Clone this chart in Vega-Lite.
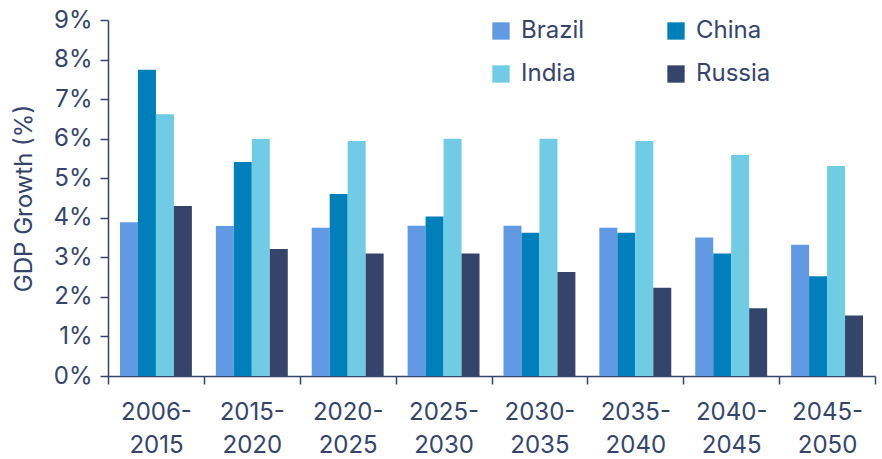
{
  "$schema": "https://vega.github.io/schema/vega-lite/v6.json",
  "autosize": {"type": "none"},
  "width": 767,
  "height": 356,
  "padding": {"left": 108, "top": 20, "right": 7, "bottom": 83},
  "background": "white",
  "config": {
    "view": {"stroke": null},
    "font": "Inter",
    "axis": {"labelFont": "Inter", "titleFont": "Inter", "labelColor": "#35446c", "titleColor": "#35446c", "domainColor": "#35446c", "tickColor": "#35446c", "grid": false}
  },
  "data": {
    "values": [
      {"period": "2006-2015", "country": "Brazil", "growth": 3.89},
      {"period": "2006-2015", "country": "China", "growth": 7.74},
      {"period": "2006-2015", "country": "India", "growth": 6.62},
      {"period": "2006-2015", "country": "Russia", "growth": 4.3},
      {"period": "2015-2020", "country": "Brazil", "growth": 3.79},
      {"period": "2015-2020", "country": "China", "growth": 5.41},
      {"period": "2015-2020", "country": "India", "growth": 5.99},
      {"period": "2015-2020", "country": "Russia", "growth": 3.21},
      {"period": "2020-2025", "country": "Brazil", "growth": 3.75},
      {"period": "2020-2025", "country": "China", "growth": 4.6},
      {"period": "2020-2025", "country": "India", "growth": 5.94},
      {"period": "2020-2025", "country": "Russia", "growth": 3.1},
      {"period": "2025-2030", "country": "Brazil", "growth": 3.8},
      {"period": "2025-2030", "country": "China", "growth": 4.03},
      {"period": "2025-2030", "country": "India", "growth": 6.0},
      {"period": "2025-2030", "country": "Russia", "growth": 3.1},
      {"period": "2030-2035", "country": "Brazil", "growth": 3.8},
      {"period": "2030-2035", "country": "China", "growth": 3.62},
      {"period": "2030-2035", "country": "India", "growth": 6.0},
      {"period": "2030-2035", "country": "Russia", "growth": 2.63},
      {"period": "2035-2040", "country": "Brazil", "growth": 3.75},
      {"period": "2035-2040", "country": "China", "growth": 3.62},
      {"period": "2035-2040", "country": "India", "growth": 5.94},
      {"period": "2035-2040", "country": "Russia", "growth": 2.23},
      {"period": "2040-2045", "country": "Brazil", "growth": 3.5},
      {"period": "2040-2045", "country": "China", "growth": 3.1},
      {"period": "2040-2045", "country": "India", "growth": 5.59},
      {"period": "2040-2045", "country": "Russia", "growth": 1.71},
      {"period": "2045-2050", "country": "Brazil", "growth": 3.32},
      {"period": "2045-2050", "country": "China", "growth": 2.52},
      {"period": "2045-2050", "country": "India", "growth": 5.31},
      {"period": "2045-2050", "country": "Russia", "growth": 1.53}
    ]
  },
  "mark": {"type": "bar"},
  "encoding": {
    "x": {
      "field": "period", "type": "nominal", "sort": null,
      "scale": {"paddingInner": 0, "paddingOuter": 0},
      "axis": {
        "title": null, "labelAngle": 0, "labelFontSize": 24, "labelPadding": 16,
        "labelLineHeight": 33,
        "labelExpr": "[slice(datum.label, 0, 5), slice(datum.label, 5)]",
        "tickBand": "extent", "tickSize": 8, "tickWidth": 1.5, "domainWidth": 1.5
      }
    },
    "xOffset": {"field": "country", "type": "nominal", "scale": {"paddingInner": 0, "paddingOuter": 0.6667}},
    "y": {
      "field": "growth", "type": "quantitative",
      "scale": {"domain": [0, 9], "nice": false},
      "axis": {
        "title": "GDP Growth (%)", "titleFontSize": 24, "titleFontWeight": "normal", "titlePadding": 16,
        "values": [0, 1, 2, 3, 4, 5, 6, 7, 8, 9],
        "labelExpr": "datum.value + '%'", "labelFontSize": 24, "labelPadding": 8,
        "tickSize": 8, "tickWidth": 1.5, "domainWidth": 1.5
      }
    },
    "color": {
      "field": "country", "type": "nominal",
      "scale": {"domain": ["Brazil", "China", "India", "Russia"], "range": ["#619ae2", "#0080ba", "#70cce5", "#34446b"]},
      "legend": {
        "title": null, "orient": "none", "legendX": 381, "legendY": -1, "columns": 2, "direction": "horizontal",
        "symbolType": "square", "symbolSize": 300, "symbolStrokeWidth": 0, "symbolOpacity": 1,
        "labelFontSize": 24, "labelColor": "#35446c", "labelFont": "Inter", "labelOffset": 8,
        "columnPadding": 79, "rowPadding": 19
      }
    }
  }
}
